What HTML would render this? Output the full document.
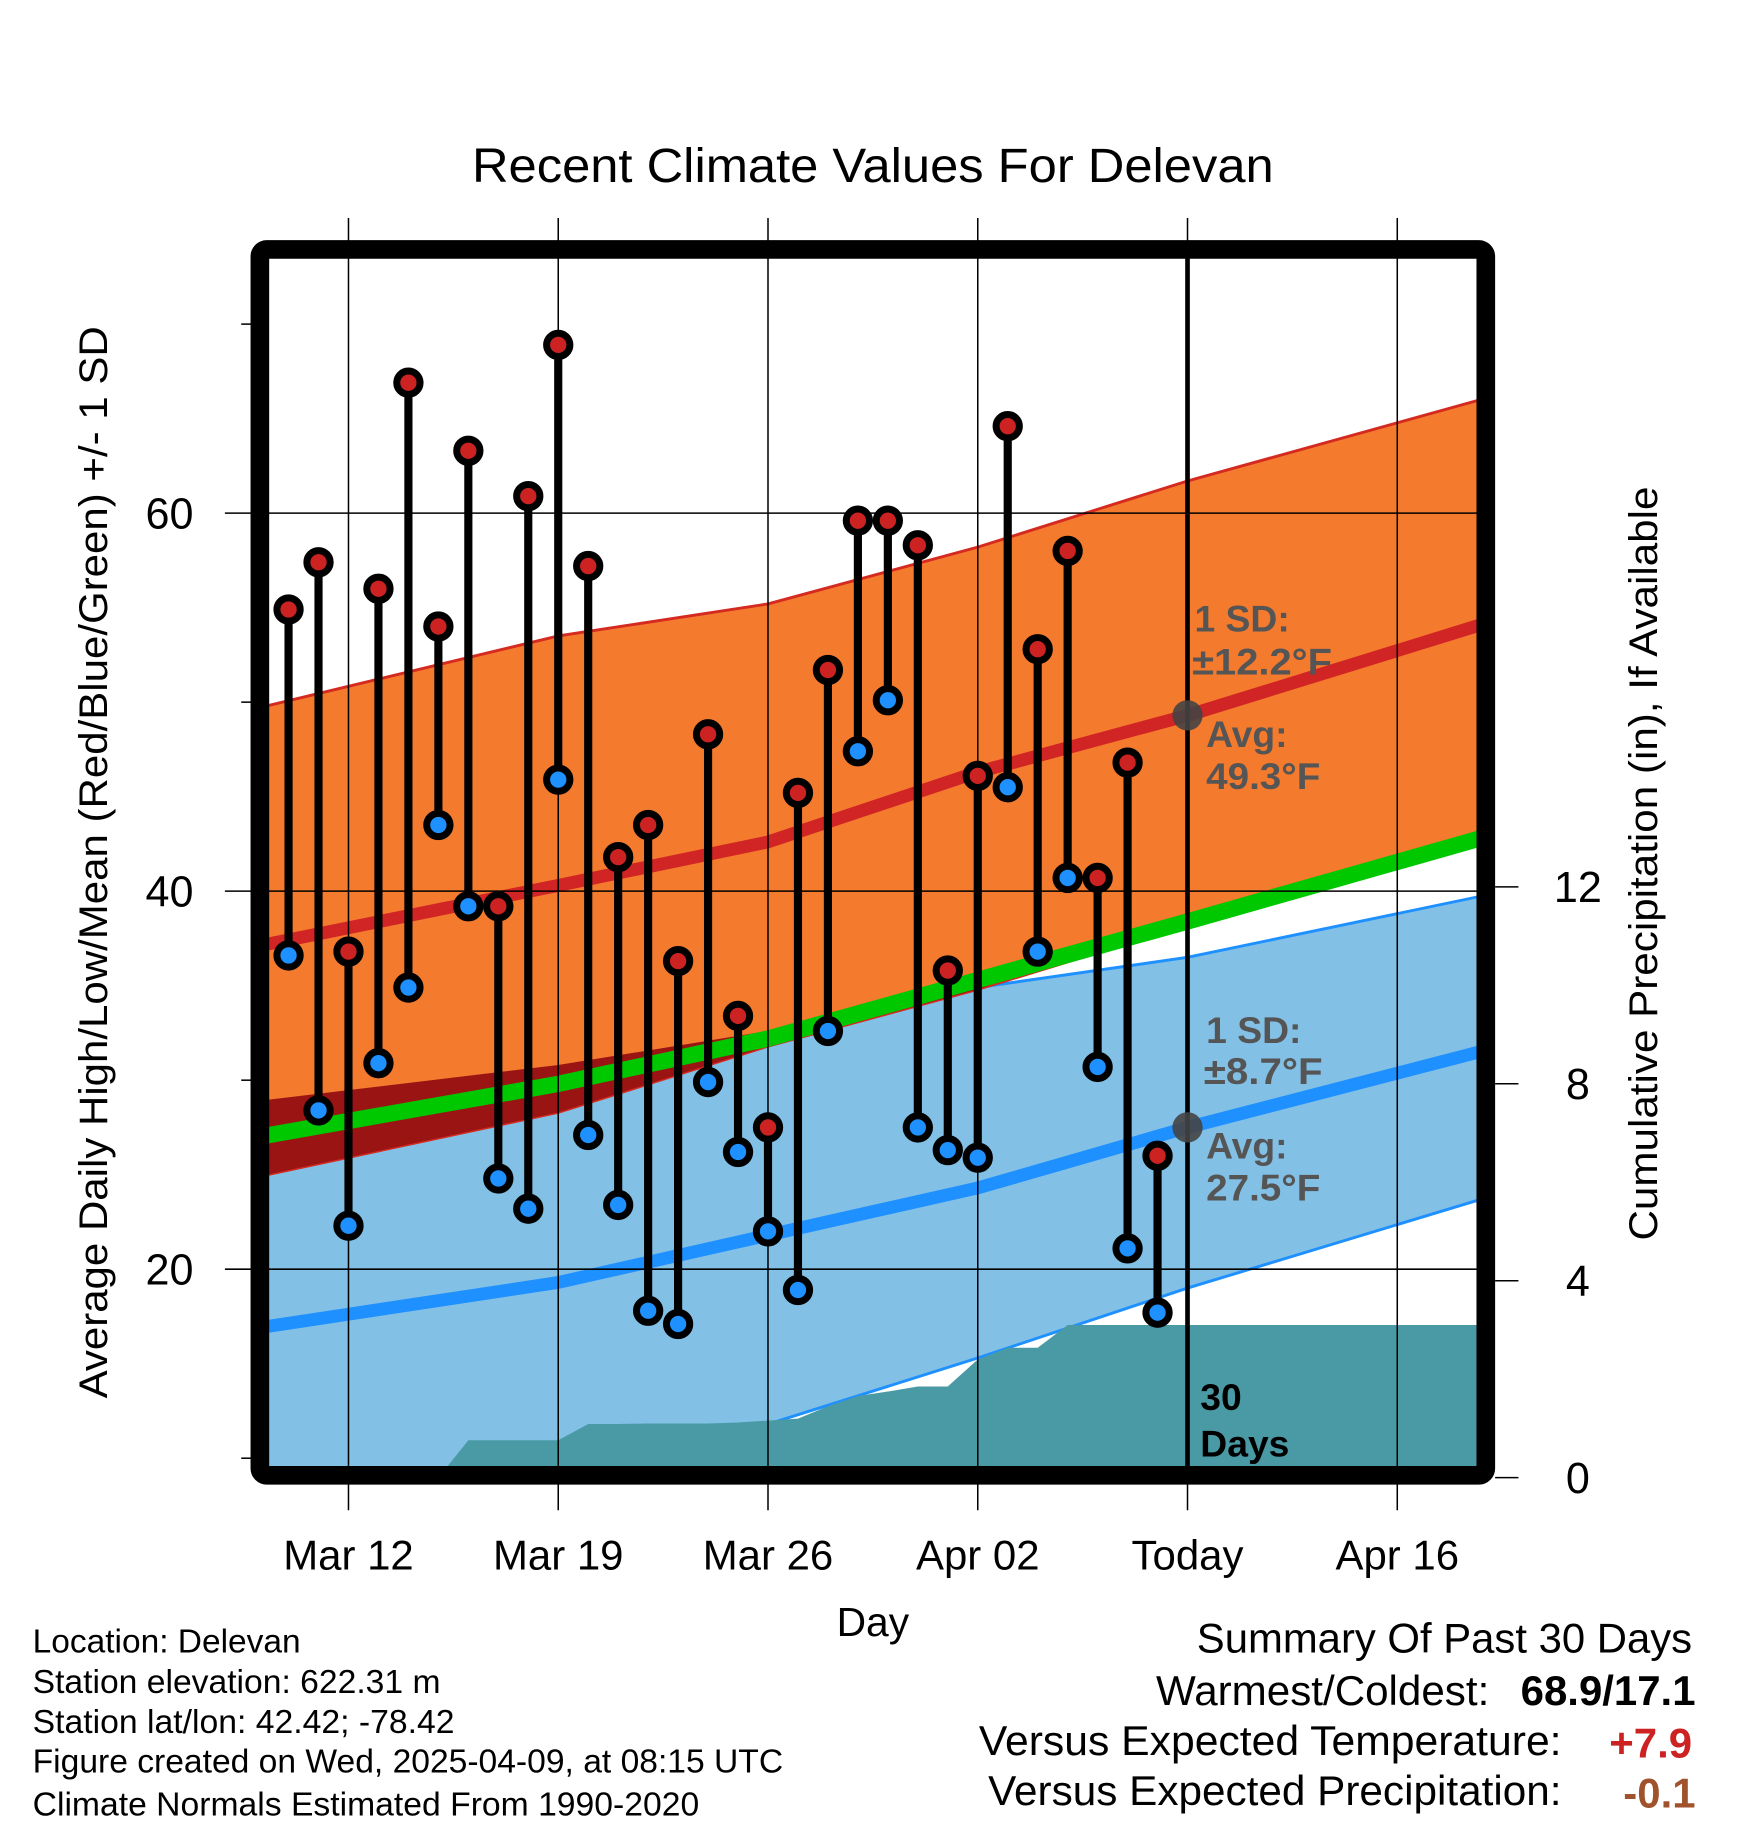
<!DOCTYPE html>
<html><head><meta charset="utf-8"><style>
html,body{margin:0;padding:0;background:#fff}
svg{display:block}
text{font-family:"Liberation Sans",Arial,sans-serif}
</style></head><body>
<svg id="chart" width="1748" height="1828" viewBox="0 0 1500 1568.6" xmlns="http://www.w3.org/2000/svg">
<defs><clipPath id="plotclip"><rect x="230" y="221" width="1038" height="1038"/></clipPath></defs>
<g id="bands" clip-path="url(#plotclip)"></g>
<g id="grid"></g>
<g id="marks"></g>
<rect x="223" y="214" width="1052" height="1052" rx="6" fill="none" stroke="#000" stroke-width="16"/>
<text x="405" y="156" font-size="41" textLength="688" lengthAdjust="spacingAndGlyphs">Recent Climate Values For Delevan</text>
<text transform="translate(92,740) rotate(-90)" font-size="34" text-anchor="middle" textLength="920" lengthAdjust="spacingAndGlyphs">Average Daily High/Low/Mean (Red/Blue/Green) +/- 1 SD</text>
<text transform="translate(1422,741) rotate(-90)" font-size="34" text-anchor="middle" textLength="647" lengthAdjust="spacingAndGlyphs">Cumulative Precipitation (in), If Available</text>
<text x="749" y="1404" font-size="35" text-anchor="middle">Day</text>
<g font-size="29" fill="#000">
<text x="28" y="1418" textLength="230" lengthAdjust="spacingAndGlyphs">Location: Delevan</text>
<text x="28" y="1453" textLength="350" lengthAdjust="spacingAndGlyphs">Station elevation: 622.31 m</text>
<text x="28" y="1487" textLength="362" lengthAdjust="spacingAndGlyphs">Station lat/lon: 42.42; -78.42</text>
<text x="28" y="1521" textLength="644" lengthAdjust="spacingAndGlyphs">Figure created on Wed, 2025-04-09, at 08:15 UTC</text>
<text x="28" y="1558" textLength="572" lengthAdjust="spacingAndGlyphs">Climate Normals Estimated From 1990-2020</text>
</g>
<g font-size="36">
<text x="1027" y="1418" textLength="425" lengthAdjust="spacingAndGlyphs">Summary Of Past 30 Days</text>
<text x="992" y="1463" textLength="286" lengthAdjust="spacingAndGlyphs">Warmest/Coldest:</text>
<text x="1455" y="1463" text-anchor="end" font-weight="bold">68.9/17.1</text>
<text x="840" y="1506" textLength="500" lengthAdjust="spacingAndGlyphs">Versus Expected Temperature:</text>
<text x="1452" y="1508" text-anchor="end" font-weight="bold" fill="#cc2222">+7.9</text>
<text x="848" y="1549" textLength="492" lengthAdjust="spacingAndGlyphs">Versus Expected Precipitation:</text>
<text x="1455" y="1551" text-anchor="end" font-weight="bold" fill="#a0522d">-0.1</text>
</g>
<g id="annot" font-size="32" font-weight="bold" fill="#555">
<text x="1025" y="542">1 SD:</text>
<text x="1023" y="579" textLength="120" lengthAdjust="spacingAndGlyphs">±12.2°F</text>
<text x="1035" y="641">Avg:</text>
<text x="1035" y="677" textLength="98" lengthAdjust="spacingAndGlyphs">49.3°F</text>
<text x="1035" y="895">1 SD:</text>
<text x="1033" y="930" textLength="102" lengthAdjust="spacingAndGlyphs">±8.7°F</text>
<text x="1035" y="994">Avg:</text>
<text x="1035" y="1030" textLength="98" lengthAdjust="spacingAndGlyphs">27.5°F</text>
<text x="1030" y="1210" fill="#000">30</text>
<text x="1030" y="1250" fill="#000">Days</text>
</g>
<script>
const highs=[54.9,57.4,36.8,56.0,66.9,54.0,63.3,39.2,60.9,68.9,57.2,41.8,43.5,36.3,48.3,33.4,27.5,45.2,51.7,59.6,59.6,58.3,35.8,46.1,64.6,52.8,58.0,40.7,46.8,26.0];
const lows=[36.6,28.4,22.3,30.9,34.9,43.5,39.2,24.8,23.2,45.9,27.1,23.4,17.8,17.1,29.9,26.2,22.0,18.9,32.6,47.4,50.1,27.5,26.3,25.9,45.5,36.8,40.7,30.7,21.1,17.7];
const precip=[0,0,0,0,0,0,0.76,0.76,0.76,0.76,1.09,1.09,1.10,1.10,1.10,1.12,1.16,1.2,1.45,1.66,1.75,1.85,1.85,2.4,2.64,2.64,3.1,3.1,3.1,3.1];
const normDays=[0,10,17,24,31,41];
const avgHigh=[37.1,40.3,42.6,46.3,49.3,54.2];
const highUpper=[49.7,53.5,55.2,58.2,61.7,66.1];
const highLower=[24.9,28.3,31.8,34.8,38.2,42.9];
const avgLow=[16.9,19.3,21.8,24.3,27.5,31.6];
const lowUpper=[28.9,30.8,32.6,34.9,36.5,39.8];
const lowLower=[3.0,8.5,11.8,15.3,19.0,23.8];
const xTickDays=[3,10,17,24,31,38];
const xTickLabels=["Mar 12","Mar 19","Mar 26","Apr 02","Today","Apr 16"];
const yTicks=[20,40,60];
const yMinor=[10,30,50,70];
const pTicks=[0,4,8,12];
const todayDay=31;

const NS="http://www.w3.org/2000/svg";
const X=d=>221.9+d*25.714;
const Y=t=>1413.5-t*16.22;
const P=p=>1268-p*42.25;
function el(tag,attrs,parent){const e=document.createElementNS(NS,tag);for(const k in attrs)e.setAttribute(k,attrs[k]);parent.appendChild(e);return e;}
const bands=document.getElementById('bands'),grid=document.getElementById('grid'),marks=document.getElementById('marks');
function pts(days,vals){return days.map((d,i)=>X(d).toFixed(1)+','+Y(vals[i]).toFixed(1));}
function bandPath(up,lo){return 'M'+pts(normDays,up).join('L')+'L'+pts(normDays,lo).reverse().join('L')+'Z';}

const blueD=bandPath(lowUpper,lowLower);
const cp=el('clipPath',{id:'blueclip'},document.querySelector('defs'));
el('path',{d:blueD},cp);
let e;
e=el('path',{d:blueD,fill:'#82c0e6',stroke:'#1e90ff','stroke-width':2.5},bands);


const orD=bandPath(highUpper,highLower);
e=el('path',{d:orD,fill:'#f47a2e',stroke:'#d42a20','stroke-width':2.5},bands);


e=el('path',{d:orD,fill:'#9b1414','clip-path':'url(#blueclip)'},bands);


let pd='M'+X(0)+','+P(0);
precip.forEach((p,i)=>{pd+='L'+X(i+1).toFixed(1)+','+P(p).toFixed(1);});
pd+='L1268,'+P(precip[precip.length-1])+'L1268,1268Z';
e=el('path',{d:pd,fill:'#4a9aa5'},bands);


const mean=avgHigh.map((h,i)=>(h+avgLow[i])/2);
e=el('polyline',{points:pts(normDays,mean).join(' '),fill:'none',stroke:'#00c800','stroke-width':14},bands);


e=el('polyline',{points:pts(normDays,avgHigh).join(' '),fill:'none',stroke:'#d12424','stroke-width':11},bands);


e=el('polyline',{points:pts(normDays,avgLow).join(' '),fill:'none',stroke:'#1e90ff','stroke-width':11},bands);



xTickDays.forEach((d,i)=>{
  e=el('line',{x1:X(d),x2:X(d),y1:187,y2:1296,stroke:'#000','stroke-width':1.3},grid);
  
  
  e=el('text',{x:X(d),y:1347,'font-size':36,'text-anchor':'middle'},grid);
  e.textContent=xTickLabels[i];
  
  
});
yTicks.forEach(t=>{
  e=el('line',{x1:193,x2:1268,y1:Y(t),y2:Y(t),stroke:'#000','stroke-width':1.3},grid);
  
  
  e=el('text',{x:166,y:Y(t)+13,'font-size':37,'text-anchor':'end'},grid);
  e.textContent=t;
  
  
});
yMinor.forEach(t=>{
  e=el('line',{x1:207,x2:216,y1:Y(t),y2:Y(t),stroke:'#000','stroke-width':1.3},grid);
  
  
});
pTicks.forEach(p=>{
  e=el('line',{x1:1283,x2:1303,y1:P(p),y2:P(p),stroke:'#000','stroke-width':1.3},grid);
  
  
  e=el('text',{x:1354,y:P(p)+13,'font-size':37,'text-anchor':'middle'},grid);
  e.textContent=p;
  
  
});
e=el('line',{x1:X(todayDay),x2:X(todayDay),y1:221,y2:1259,stroke:'#000','stroke-width':4},marks);


[avgHigh,avgLow].forEach(arr=>{
  const v=arr[3]+(arr[4]-arr[3])*(todayDay-24)/7;
  e=el('circle',{cx:X(todayDay),cy:Y(v),r:13,fill:'#444','fill-opacity':0.9},marks);
  
  
});
highs.forEach((h,i)=>{
  const x=X(i+1),l=lows[i];
  e=el('line',{x1:x,x2:x,y1:Y(h),y2:Y(l),stroke:'#000','stroke-width':7},marks);
  
  
  e=el('circle',{cx:x,cy:Y(h),r:10,fill:'#cc2222',stroke:'#000','stroke-width':6},marks);
  
  
  e=el('circle',{cx:x,cy:Y(l),r:10,fill:'#1e90ff',stroke:'#000','stroke-width':6},marks);
  
  
});
document.getElementById('chart').appendChild(document.getElementById('annot'));
</script>
</svg>
</body></html>
